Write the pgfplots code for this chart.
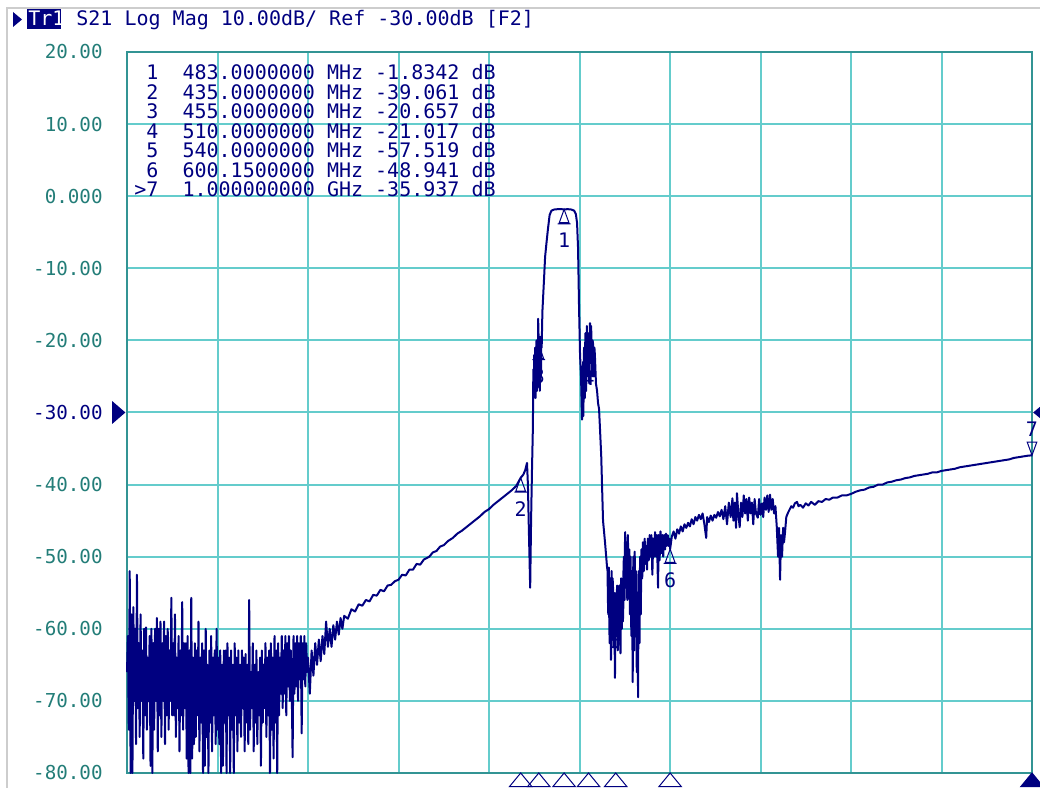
\documentclass[border=0pt]{standalone}
\usepackage{pgfplots}
\pgfplotsset{compat=1.18}
\usepackage{fontspec}
\setmainfont{DejaVu Sans Mono}
\newfontfamily\vna{DejaVu Sans Mono}
\definecolor{trc}{RGB}{0,0,128}
\definecolor{gridc}{RGB}{100,204,204}
\definecolor{framec}{RGB}{50,148,148}
\definecolor{labc}{RGB}{35,125,120}
\definecolor{bordc}{RGB}{205,205,205}

\pgfdeclareplotmark{mktri}{%
  \pgfpathmoveto{\pgfqpoint{0pt}{0pt}}%
  \pgfpathlineto{\pgfqpoint{-2.4pt}{-6.6pt}}%
  \pgfpathlineto{\pgfqpoint{2.4pt}{-6.6pt}}%
  \pgfpathclose
  \pgfpathmoveto{\pgfqpoint{-3.2pt}{-7.2pt}}%
  \pgfpathlineto{\pgfqpoint{3.2pt}{-7.2pt}}%
  \pgfusepathqstroke}
\pgfdeclareplotmark{mkinv}{%
  \pgfpathmoveto{\pgfqpoint{0pt}{0pt}}%
  \pgfpathlineto{\pgfqpoint{-2.4pt}{6.6pt}}%
  \pgfpathlineto{\pgfqpoint{2.4pt}{6.6pt}}%
  \pgfpathclose
  \pgfusepathqstroke}
\pgfdeclareplotmark{mkbot}{%
  \pgfpathmoveto{\pgfqpoint{0pt}{0pt}}%
  \pgfpathlineto{\pgfqpoint{-5.6pt}{-6.8pt}}%
  \pgfpathlineto{\pgfqpoint{5.6pt}{-6.8pt}}%
  \pgfpathclose
  \pgfusepathqstroke}
\pgfdeclareplotmark{mkbotf}{%
  \pgfpathmoveto{\pgfqpoint{0pt}{0pt}}%
  \pgfpathlineto{\pgfqpoint{-5.6pt}{-6.8pt}}%
  \pgfpathlineto{\pgfqpoint{5.6pt}{-6.8pt}}%
  \pgfpathclose
  \pgfusepathqfillstroke}
\pgfdeclareplotmark{mkleft}{%
  \pgfpathmoveto{\pgfqpoint{-0.8pt}{0pt}}%
  \pgfpathlineto{\pgfqpoint{-7.4pt}{5.7pt}}%
  \pgfpathlineto{\pgfqpoint{-7.4pt}{-5.7pt}}%
  \pgfpathclose
  \pgfusepathqfill}
\pgfdeclareplotmark{mkright}{%
  \pgfpathmoveto{\pgfqpoint{0.6pt}{0pt}}%
  \pgfpathlineto{\pgfqpoint{6.6pt}{5pt}}%
  \pgfpathlineto{\pgfqpoint{6.6pt}{-5pt}}%
  \pgfpathclose
  \pgfusepathqfill}

\begin{document}
\begin{tikzpicture}
\path[use as bounding box] (0,0) rectangle (520pt,394pt);
\draw[bordc, line width=0.8pt] (3.5pt,0pt) -- (3.5pt,390pt) -- (520pt,390pt);
% header
\fill[trc] (6.5pt,388pt) -- (6.5pt,380.5pt) -- (11pt,384.25pt) -- cycle;
\fill[trc] (13.5pt,389.5pt) rectangle (30.5pt,379.5pt);
\node[anchor=base west, inner sep=0pt, text=white, font=\vna\fontsize{10}{12}\selectfont] at (14pt,381pt) {Tr1};
\node[anchor=base west, inner sep=0pt, text=trc, font=\vna\fontsize{10}{12}\selectfont] at (38pt,381pt) {S21~Log~Mag~10.00dB/~Ref~-30.00dB~[F2]};

\begin{axis}[
  at={(63.5pt,7.5pt)}, anchor=south west,
  scale only axis, width=452.5pt, height=360.5pt,
  xmin=0, xmax=1000, ymin=-80, ymax=20,
  xtick={0,100,...,1000}, xticklabels={},
  ytick={-80,-70,...,20},
  yticklabels={{-80.00},{-70.00},{-60.00},{-50.00},{-40.00},{\textcolor{trc}{-30.00}},{-20.00},{-10.00},{0.000},{10.00},{20.00}},
  yticklabel style={anchor=east, inner sep=0pt, xshift=-12pt, text=labc, font=\vna\fontsize{9.6}{11}\selectfont},
  major tick length=0pt,
  grid=major,
  major grid style={color=gridc, line width=1pt},
  axis line style={color=framec, line width=1.1pt},
  clip=false,
]
\addplot[trc, line width=1pt, mark=none, line join=round] coordinates {
(0,-66)(1,-61)(2,-74)(3,-52)(4,-80)(5,-58)(6,-80)(7,-57)(8,-70)(9,-60)(10,-76)(11,-52.5)(12,-71)(13,-62)(14,-75)(15,-58)(16,-70)(17,-63)(18,-78)(19,-60)(20,-72)(21,-59.8)(22,-74)(23,-64)(24,-70)(25,-61)(26,-79)(27,-60)(28,-80)(29,-62)(30,-74)(31,-60)(32,-70)(33,-58.5)(34,-77)(35,-60)(36,-72)(37,-59)(38,-75)(39,-62)(40,-70)(41,-59)(42,-76)(43,-61)(44,-72)(45,-60)(46,-74)(47,-63)(48,-70)(49,-55.7)(50,-72)(51,-62)(52,-72)(53,-58)(54,-75)(55,-64)(56,-71)(57,-61)(58,-77)(59,-63)(60,-72)(61,-56.3)(62,-74)(63,-62)(64,-71)(65,-62)(66,-78)(67,-61)(68,-80)(69,-63)(70,-80)(71,-55.7)(72,-78)(73,-64)(74,-76)(75,-62)(76,-75)(77,-63)(78,-72)(79,-59)(80,-77)(81,-64)(82,-73)(83,-62)(84,-80)(85,-63)(86,-79)(87,-60)(88,-75)(89,-65)(90,-80)(91,-63)(92,-73)(93,-61)(94,-77)(95,-64)(96,-72)(97,-63)(98,-76)(99,-60)(100,-74)(101,-64)(102,-76)(103,-63)(104,-80)(105,-65)(106,-79)(107,-63)(108,-73)(109,-63)(110,-80)(111,-62)(112,-72)(113,-64)(114,-80)(115,-63)(116,-74)(117,-65)(118,-80)(119,-62)(120,-72)(121,-64)(122,-77)(123,-63)(124,-73)(125,-65)(126,-75)(127,-63)(128,-71)(129,-64)(130,-77)(131,-63.5)(132,-73)(133,-65)(134,-76)(135,-56)(136,-74)(137,-66)(138,-71)(139,-62)(140,-77)(141,-65)(142,-73)(143,-63)(144,-76)(145,-66)(146,-72)(147,-64)(148,-79)(149,-63)(150,-73)(151,-65)(152,-71)(153,-62)(154,-75)(155,-64)(156,-72)(157,-63)(158,-80)(159,-62)(160,-74)(161,-64)(162,-78)(163,-61)(164,-73)(165,-63)(166,-80)(167,-62)(168,-72)(169,-64)(170,-69)(171,-61)(172,-71)(173,-63)(174,-69)(175,-61)(176,-72)(177,-62)(178,-68)(179,-61)(180,-70)(181,-63)(182,-68)(183,-77.8)(184,-61)(185,-69)(186,-62)(187,-68)(188,-61)(189,-70)(190,-62)(191,-67)(192,-61)(193,-74.5)(194,-62)(195,-67)(196,-61)(197,-68)(198,-62)(199,-66)(200,-64)
(202,-69)(204,-63)(206,-66.5)(208,-62)(210,-65)(212,-61.5)(214,-64.5)(216,-61)(218,-63.5)(220,-59)(222,-62.5)(224,-60)(226,-62.5)(228,-59.5)(230,-61.5)(232,-59)(234,-60.8)(236,-58.5)(238,-60)(240,-58.2)(244,-58.6)(248,-57.3)(252,-57.6)(256,-56.6)(260,-56.8)(264,-56.0)(268,-56.2)(272,-55.3)(276,-55.4)(280,-54.6)(284,-54.8)(288,-54.0)(292,-53.9)(296,-53.4)(300,-53.2)(304,-52.5)(308,-52.6)(312,-51.8)(316,-51.8)(320,-51.0)(324,-51.1)(328,-50.4)(334,-50.0)(338,-49.4)(342,-49.2)(346,-48.6)(350,-48.4)(355,-47.8)(360,-47.4)(365,-46.8)(370,-46.4)(375,-45.9)(380,-45.4)(385,-44.9)(390,-44.4)(395,-43.8)(400,-43.4)(405,-42.8)(410,-42.3)(415,-41.8)(420,-41.3)(425,-40.8)(430,-40.2)(435,-39.061)(438,-38.6)(440,-38.0)(442,-37.0)(443,-40)(444,-46)(445.5,-54.3)(446.5,-45)(447.5,-38)(448.5,-32)(449,-24)(449.5,-28)(450,-22)(450.5,-27)(451,-21)(451.5,-28)(452,-22)(452.5,-20)(453,-27)(453.5,-23)(454,-26.5)(454.3,-17)(455,-20.657)(455.4,-26)(455.8,-21)(456.2,-27)(456.6,-19.5)(457,-24)(457.4,-25)(457.8,-20)(458.2,-21)(459,-16)(460,-13.5)(461,-11)(462,-8.4)(463.5,-6.5)(465,-4.7)(467,-2.6)(469,-2.0)(472,-1.85)(476,-1.8)(480,-1.8)(483,-1.8342)(487,-1.8)(491,-1.85)(494,-2.0)(496,-2.5)(497.3,-3.7)(498.4,-7.2)(499.5,-15.4)(500.6,-22)(501.7,-25)(502.8,-31)(503.2,-24)(503.5,-29)(503.9,-23)(504.3,-30.5)(504.7,-24)(505,-21)(505.4,-27)(505.8,-28)(506.2,-21)(506.6,-19)(507,-25)(507.4,-27)(507.8,-20)(508.2,-18)(508.6,-25)(509,-24)(509.5,-19)(510,-21.017)(510.4,-24)(510.8,-26)(511.2,-20)(511.6,-17.6)(512,-22)(512.4,-23)(512.8,-18)(513.2,-19.5)(513.6,-24)(514,-25)(514.5,-20)(515,-20.5)(515.5,-25)(516,-24.5)(516.5,-21)(517,-22)(518.2,-26)(519.4,-27)(520.5,-28.7)(521.6,-29.5)(522.7,-32.4)(524,-36)(526,-45)(528.2,-48)(530.4,-51.4)
(531,-52)(531.4,-56)(531.8,-58)(532.1,-53)(532.5,-51.5)(532.9,-59)(533.3,-62)(533.6,-55)(534,-53)(534.4,-61)(534.8,-64.3)(535.1,-56)(535.5,-52)(535.9,-58)(536.3,-60)(536.6,-53)(537,-54)(537.4,-61)(537.8,-62.5)(538.1,-55)(538.5,-56)(538.9,-63)(539.2,-66.8)(539.6,-58)(540,-57.519)(540.4,-55)(540.8,-61)(541.1,-57)(541.5,-54)(541.9,-60)(542.3,-63)(542.6,-56)(543,-55)(543.4,-59)(543.8,-60)(544.1,-54)(544.5,-56)(544.9,-61)(545.3,-63.4)(545.6,-55)(546,-53)(546.4,-58)(546.8,-60)(547.1,-54)(547.5,-55)(547.9,-59)(548.3,-58)(548.6,-52)(549,-50)(549.4,-55)(549.8,-56)(550.1,-49)(550.5,-46.6)(550.9,-52)(551.3,-54)(551.6,-49)(552,-48)(552.4,-54)(552.8,-56)(553.1,-49)(553.5,-47)(553.9,-52)(554.3,-54)(554.6,-50)(555,-49)(555.4,-55)(555.8,-58)(556.1,-52)(556.5,-50)(556.9,-57)(557.3,-61)(557.6,-53)(558,-52)(558.4,-60)(558.8,-67.4)(559.1,-55)(559.5,-50)(559.9,-58)(560.3,-63)(560.6,-53)(561,-49.3)(561.4,-55)(561.8,-60)(562.1,-54)(562.5,-52)(562.9,-60)(563.3,-66)(563.6,-57)(564,-55)(564.4,-62)(564.7,-69.5)(565.1,-57)(565.5,-52)(565.9,-58)(566.3,-62)(566.6,-54)(567,-50)(567.4,-55)(567.8,-58)(568.1,-52)(568.5,-49)(569.3,-53)(570,-48)(571,-52)(572,-47.5)(573,-51)(574,-48.5)(574.6,-51.8)(575.5,-47.5)(576.5,-50.5)(577.5,-47)(578.5,-50)(579.5,-47)(580.5,-52.5)(581.5,-47.5)(582.5,-50)(583.5,-46.6)(584.5,-50)(585.5,-47)(586.8,-54.3)(587.5,-47)(588.5,-50.5)(589.5,-46.5)(590.5,-49.5)(591.5,-47)(592.5,-50)(593.5,-47)(594.5,-49)(595.5,-46.8)(596.5,-48.5)(597.5,-47)(598.5,-48.5)(599.5,-47.5)(600.15,-48.941)
(602,-47.2)(604,-46.5)(606,-47.5)(608,-46.2)(610,-46.8)(612,-45.8)(614,-46.5)(616,-45.5)(618,-46)(620,-45.3)(622,-45.8)(624,-44.8)(626,-45.5)(628,-44.5)(630,-45)(632,-44.2)(634,-44.8)(636,-44)(638,-45.5)(640,-47.4)(641,-44.5)(643,-45.2)(645,-44.3)(647,-45)(649,-44.2)(651,-44.6)(653,-43.8)(655,-44.4)(657,-43.5)(659,-44.8)(661,-43)(663,-45.5)(665,-42.5)(667,-44.5)(669,-41.9)(670,-45)(671.5,-42.5)(673,-46)(674,-41.2)(675.5,-44)(677,-45.9)(678.5,-42.5)(680,-44.5)(681.5,-41.5)(683,-44)(684.5,-42)(686,-45)(687.5,-41.8)(689,-44)(690.5,-42.5)(692,-45.5)(693.5,-42)(695,-44)(697,-44.6)(698.5,-42)(700,-44.2)(701.7,-42.6)(703,-44.5)(704.5,-41.8)(706,-43.5)(707.5,-41.5)(709,-43.8)(710.5,-41.4)(712,-43.5)(713.5,-42)(715,-44)(716.5,-43)(718,-45.9)(719.4,-50)(720.5,-46)(721.6,-53.2)(722.7,-47)(723.8,-50)(725,-46)(726,-48)(727.1,-46.6)(728.5,-44.5)(730.4,-43.9)(732,-43.5)(734,-43)(736,-43.2)(738,-42.6)(740.4,-42.4)(742,-43)(744,-42.8)(747,-43.2)(750,-42.6)(753,-42.9)(756,-42.4)(760,-42.8)(764,-42.3)(768,-42.4)(772,-42.0)(776,-42.1)(780,-41.8)(785,-41.8)(790,-41.5)(795,-41.5)(800,-41.3)(805,-41.0)(810,-40.8)(815,-40.7)(820,-40.4)(825,-40.3)(830,-40.0)(835,-40.0)(840,-39.7)(845,-39.6)(850,-39.4)(855,-39.3)(860,-39.1)(865,-39.0)(870,-38.8)(875,-38.7)(880,-38.6)(885,-38.5)(890,-38.3)(895,-38.3)(900,-38.1)(905,-38.0)(910,-37.9)(915,-37.8)(920,-37.6)(925,-37.5)(930,-37.4)(935,-37.3)(940,-37.2)(945,-37.1)(950,-37.0)(955,-36.9)(960,-36.8)(965,-36.7)(970,-36.6)(975,-36.5)(980,-36.3)(985,-36.2)(990,-36.1)(995,-36.0)(1000,-35.937)
};
% marker table
\node[anchor=base west, inner sep=0pt, text=trc, font=\vna\fontsize{10}{12}\selectfont] at (rel axis cs:0,1) [xshift=3.5pt, yshift=-14pt] {~1~~483.0000000~MHz~-1.8342~dB};
\node[anchor=base west, inner sep=0pt, text=trc, font=\vna\fontsize{10}{12}\selectfont] at (rel axis cs:0,1) [xshift=3.5pt, yshift=-23.75pt] {~2~~435.0000000~MHz~-39.061~dB};
\node[anchor=base west, inner sep=0pt, text=trc, font=\vna\fontsize{10}{12}\selectfont] at (rel axis cs:0,1) [xshift=3.5pt, yshift=-33.5pt] {~3~~455.0000000~MHz~-20.657~dB};
\node[anchor=base west, inner sep=0pt, text=trc, font=\vna\fontsize{10}{12}\selectfont] at (rel axis cs:0,1) [xshift=3.5pt, yshift=-43.25pt] {~4~~510.0000000~MHz~-21.017~dB};
\node[anchor=base west, inner sep=0pt, text=trc, font=\vna\fontsize{10}{12}\selectfont] at (rel axis cs:0,1) [xshift=3.5pt, yshift=-53pt] {~5~~540.0000000~MHz~-57.519~dB};
\node[anchor=base west, inner sep=0pt, text=trc, font=\vna\fontsize{10}{12}\selectfont] at (rel axis cs:0,1) [xshift=3.5pt, yshift=-62.75pt] {~6~~600.1500000~MHz~-48.941~dB};
\node[anchor=base west, inner sep=0pt, text=trc, font=\vna\fontsize{10}{12}\selectfont] at (rel axis cs:0,1) [xshift=3.5pt, yshift=-72.5pt] {>7~~1.000000000~GHz~-35.937~dB};
% markers on trace
\addplot[only marks, mark=mktri, trc, mark options={line width=0.5pt},
  point meta=explicit symbolic, nodes near coords,
  every node near coord/.append style={anchor=north, inner sep=0pt, yshift=-11.5pt, text=trc, font=\vna\fontsize{10}{12}\selectfont}]
  coordinates {(483,-1.8342)[1] (435,-39.061)[2] (455,-20.657)[3] (510,-21.017)[4] (540,-57.519)[5] (600.15,-48.941)[6]};
\addplot[only marks, mark=mkinv, trc, mark options={line width=0.5pt},
  point meta=explicit symbolic, nodes near coords,
  every node near coord/.append style={anchor=south, inner sep=0pt, yshift=9pt, text=trc, font=\vna\fontsize{10}{12}\selectfont}]
  coordinates {(1000,-35.937)[7]};
% bottom marker indicators
\addplot[only marks, mark=mkbot, trc, mark options={line width=0.5pt}]
  coordinates {(435,-80) (455,-80) (483,-80) (510,-80) (540,-80) (600.15,-80)};
\addplot[only marks, mark=mkbotf, trc, mark options={line width=0.5pt, fill=trc}]
  coordinates {(1000,-80)};
% reference level arrows
\addplot[only marks, mark=mkleft, trc, mark options={fill=trc}] coordinates {(0,-30)};
\addplot[only marks, mark=mkright, trc, mark options={fill=trc}] coordinates {(1000,-30)};
\end{axis}
\end{tikzpicture}
\end{document}
